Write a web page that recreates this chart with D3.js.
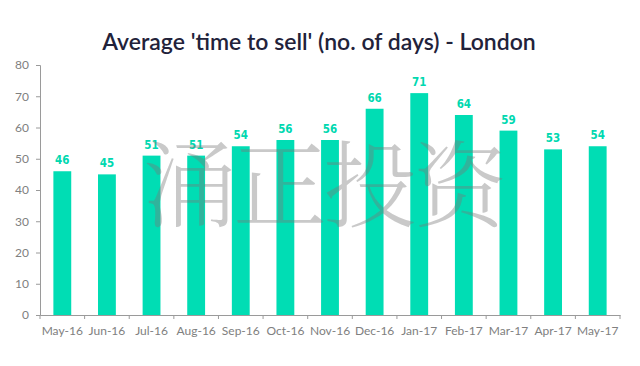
<!DOCTYPE html>
<html><head><meta charset="utf-8">
<script src="https://cdn.jsdelivr.net/npm/d3@7"></script>
<style>body{margin:0;background:#fff}svg{display:block}</style>
</head><body>
<svg id="c" width="640" height="366"></svg>
<script>
const months = ["May-16","Jun-16","Jul-16","Aug-16","Sep-16","Oct-16","Nov-16","Dec-16","Jan-17","Feb-17","Mar-17","Apr-17","May-17"];
const days = [46,45,51,51,54,56,56,66,71,64,59,53,54];
const yTicks = [0,10,20,30,40,50,60,70,80];
const title = "Average 'time to sell' (no. of days) - London";
const watermark = ["涌","正","投","资"];

const svg = d3.select("#c");
const L = 40, R = 620, T = 65, B = 315;
const x = d3.scaleBand().domain(months).range([L, R]).paddingInner(0.6).paddingOuter(0.3);
const xb = d3.scaleBand().domain(months).range([L, R]).padding(0);
const y = d3.scaleLinear().domain([0, 80]).range([B, T]);
const font = "Lato, 'Open Sans', sans-serif";

svg.append("text").attr("x", 319).attr("y", 50).attr("text-anchor", "middle")
  .attr("font-family", font).attr("font-size", 23).attr("font-weight", 600)
  .attr("fill", "#22223a").text(title);

// y axis
const ya = svg.append("g").attr("transform", `translate(${L},0)`)
  .call(d3.axisLeft(y).tickValues(yTicks).tickSize(4).tickPadding(7));
ya.select(".domain").attr("stroke", "#9a9a9a");
ya.selectAll(".tick line").attr("stroke", "#9a9a9a");
ya.selectAll("text").attr("font-family", font).attr("font-size", 12).attr("fill", "#808080");

// bars
svg.append("g").selectAll("rect").data(days).join("rect")
  .attr("x", (d, i) => x(months[i])).attr("width", x.bandwidth())
  .attr("y", d => y(d)).attr("height", d => y(0) - y(d))
  .attr("fill", "#00DDB4");

// value labels
svg.append("g").selectAll("text").data(days).join("text")
  .attr("x", (d, i) => x(months[i]) + x.bandwidth() / 2)
  .attr("y", d => y(d) - 7)
  .attr("text-anchor", "middle")
  .attr("font-family", "'DejaVu Sans Condensed', 'DejaVu Sans', sans-serif")
  .attr("font-stretch", "condensed")
  .attr("font-size", 11.5).attr("font-weight", "bold")
  .attr("fill", "#00D8B0").text(d => d);

// x axis
const xa = svg.append("g").attr("transform", `translate(0,${B})`)
  .call(d3.axisBottom(xb).tickSize(0).tickPadding(11));
xa.select(".domain").attr("stroke", "#9a9a9a");
xa.selectAll("text").attr("font-family", font).attr("font-size", 12).attr("fill", "#808080");
svg.append("g").selectAll("line").data(d3.range(months.length + 1)).join("line")
  .attr("x1", i => L + i * xb.step()).attr("x2", i => L + i * xb.step())
  .attr("y1", B).attr("y2", B + 4).attr("stroke", "#9a9a9a");

// watermark
svg.append("g").selectAll("text").data(watermark).join("text")
  .attr("x", (d, i) => 190 + i * 90).attr("y", 220)
  .attr("text-anchor", "middle")
  .attr("font-family", "'Noto Serif CJK SC', 'Noto Sans CJK SC', serif")
  .attr("font-weight", 300)
  .attr("font-size", 94).attr("fill", "rgba(120,120,120,0.4)").text(d => d);
</script>
</body></html>
